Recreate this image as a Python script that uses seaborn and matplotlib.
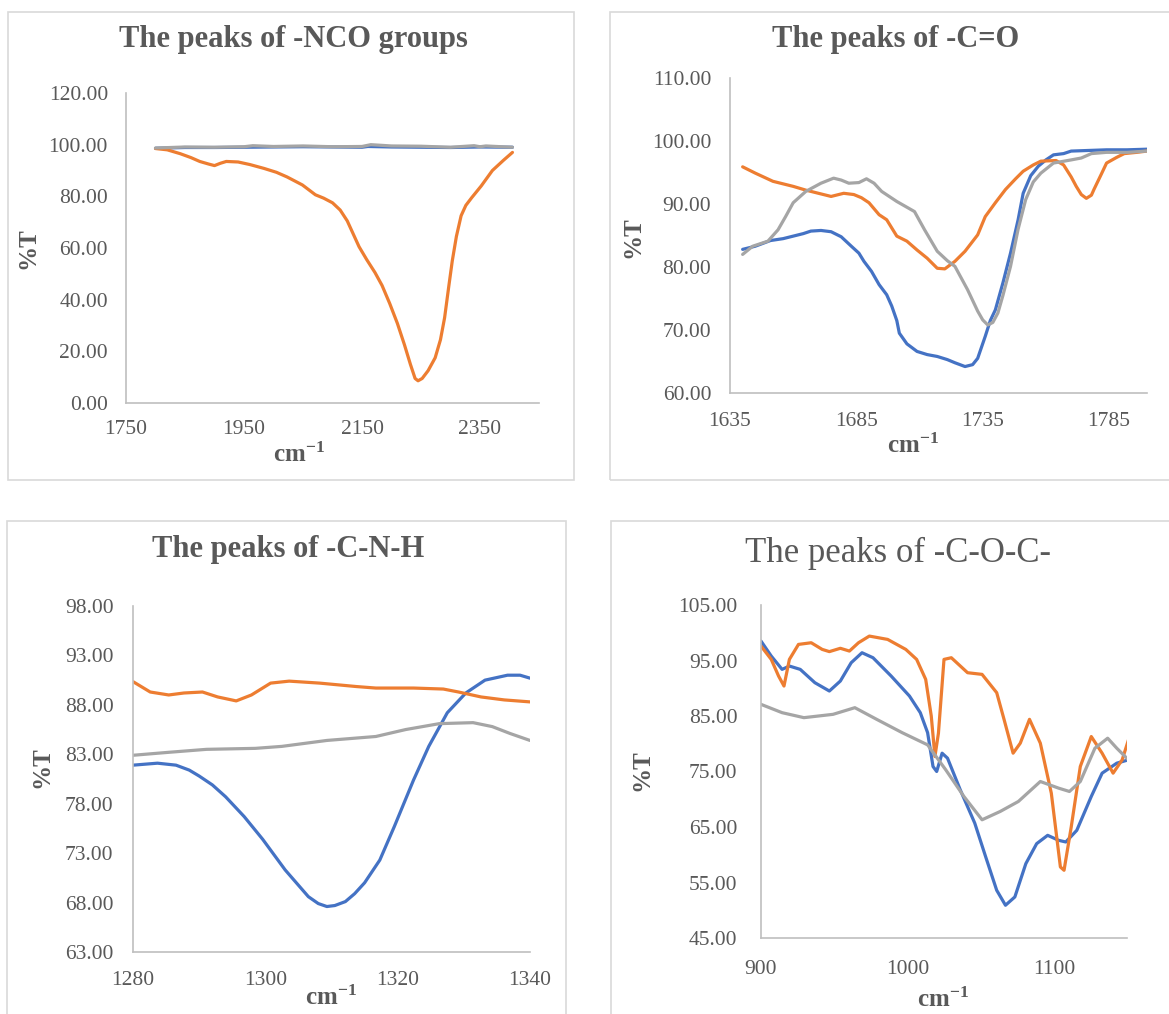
import numpy as np
import pandas as pd
import matplotlib
matplotlib.use("Agg")
import matplotlib.pyplot as plt
import seaborn as sns
from matplotlib.patches import Rectangle
from matplotlib.ticker import FormatStrFormatter

# ---------------- data ----------------
# Panel 1: -NCO groups
nco_blue_x = [1800, 1850, 1900, 1950, 2000, 2050, 2100, 2150, 2160, 2200, 2250, 2300, 2350, 2405]
nco_blue_y = [98.6, 98.9, 98.9, 99.0, 99.1, 99.2, 99.1, 99.0, 99.3, 99.1, 99.0, 98.9, 99.1, 99.0]
nco_orange_x = [1800, 1820, 1842, 1860, 1875, 1890, 1900, 1910, 1920, 1940, 1960, 1984, 2005, 2023,
                2049, 2071, 2085, 2100, 2113, 2125, 2135, 2145, 2158, 2172, 2184, 2197, 2210, 2222,
                2232, 2240, 2245, 2252, 2262, 2274, 2283, 2290, 2297, 2303, 2310, 2318, 2326, 2336,
                2352, 2371, 2390, 2405]
nco_orange_y = [98.5, 98.0, 96.5, 95.0, 93.5, 92.5, 91.9, 92.8, 93.5, 93.3, 92.3, 90.8, 89.3, 87.5,
                84.4, 80.6, 79.3, 77.5, 74.7, 70.5, 65.5, 60.5, 55.5, 50.5, 45.5, 38.5, 30.8, 22.5,
                15.0, 9.5, 8.6, 9.5, 12.5, 17.5, 24.5, 33.0, 45.0, 55.0, 64.5, 72.5, 76.5, 79.5,
                84.0, 90.0, 94.0, 97.0]
nco_gray_x = [1800, 1850, 1900, 1950, 1965, 2000, 2050, 2100, 2150, 2165, 2200, 2250, 2300, 2340,
              2350, 2360, 2405]
nco_gray_y = [98.7, 99.1, 99.0, 99.2, 99.6, 99.3, 99.5, 99.2, 99.3, 100.0, 99.5, 99.4, 99.0, 99.6,
              99.2, 99.5, 99.0]

# Panel 2: -C=O
co_blue_x = [1640, 1645, 1651, 1656, 1660, 1664, 1667, 1671, 1675, 1679, 1683, 1686, 1688, 1691,
             1694, 1697, 1699, 1701, 1702, 1705, 1709, 1713, 1717, 1721, 1724, 1728, 1731, 1733,
             1736, 1738, 1740, 1743, 1746, 1749, 1751, 1754, 1757, 1760, 1763, 1767, 1770, 1777,
             1784, 1792, 1800]
co_blue_y = [82.8, 83.3, 84.2, 84.5, 84.9, 85.3, 85.7, 85.8, 85.6, 84.8, 83.3, 82.2, 80.9, 79.3,
             77.2, 75.6, 73.8, 71.5, 69.5, 67.8, 66.6, 66.1, 65.8, 65.3, 64.8, 64.2, 64.5, 65.5,
             69.0, 71.5, 73.2, 77.5, 82.2, 87.5, 91.7, 94.5, 96.0, 97.0, 97.8, 98.0, 98.4, 98.5,
             98.6, 98.6, 98.7]
co_orange_x = [1640, 1645, 1652, 1660, 1665, 1670, 1675, 1680, 1684, 1687, 1690, 1694, 1697, 1701,
               1705, 1709, 1713, 1717, 1720, 1724, 1728, 1733, 1736, 1740, 1744, 1748, 1751, 1755,
               1758, 1764, 1767, 1770, 1772, 1774, 1776, 1778, 1779, 1782, 1784, 1788, 1791, 1796,
               1800]
co_orange_y = [95.9, 94.9, 93.6, 92.8, 92.2, 91.7, 91.2, 91.7, 91.5, 91.0, 90.2, 88.3, 87.5, 84.9,
               84.1, 82.7, 81.4, 79.8, 79.7, 80.9, 82.5, 85.1, 88.0, 90.2, 92.3, 94.0, 95.2, 96.2,
               96.8, 96.9, 96.2, 94.3, 92.8, 91.5, 90.9, 91.4, 92.3, 94.8, 96.5, 97.4, 98.0, 98.2,
               98.4]
co_gray_x = [1640, 1644, 1650, 1654, 1657, 1660, 1665, 1671, 1676, 1679, 1682, 1686, 1689, 1692,
             1695, 1701, 1708, 1712, 1717, 1721, 1724, 1729, 1733, 1735, 1737, 1739, 1741, 1743,
             1746, 1749, 1752, 1755, 1758, 1763, 1770, 1774, 1778, 1784, 1792, 1800]
co_gray_y = [82.0, 83.3, 84.1, 85.9, 88.0, 90.2, 92.0, 93.3, 94.1, 93.8, 93.3, 93.4, 94.0, 93.3,
             92.0, 90.4, 88.8, 85.9, 82.5, 81.0, 80.1, 76.4, 73.0, 71.6, 70.8, 71.2, 72.7, 75.5,
             80.1, 86.0, 90.7, 93.5, 94.9, 96.5, 97.0, 97.3, 98.0, 98.2, 98.2, 98.4]

# Panel 3: -C-N-H
cnh_blue_x = [1280, 1283.7, 1286.5, 1288.5, 1290, 1292, 1294, 1296.8, 1299.6, 1303, 1306.5, 1308,
              1309.3, 1310.5, 1312.1, 1313.5, 1315, 1317.3, 1319.5, 1322.4, 1324.7, 1327.5, 1330.3,
              1333.2, 1336.6, 1338.5, 1340]
cnh_blue_y = [81.9, 82.1, 81.9, 81.4, 80.8, 79.9, 78.7, 76.7, 74.4, 71.3, 68.6, 67.9, 67.6, 67.7,
              68.1, 68.9, 70.0, 72.3, 75.7, 80.4, 83.8, 87.2, 89.2, 90.5, 91.0, 91.0, 90.7]
cnh_orange_x = [1280, 1282.6, 1285.4, 1287.7, 1290.5, 1292.8, 1295.6, 1297.9, 1300.8, 1303.6,
                1308.2, 1313.8, 1316.7, 1322.4, 1326.9, 1329.2, 1332.6, 1336.1, 1340]
cnh_orange_y = [90.35, 89.3, 89.0, 89.2, 89.3, 88.8, 88.4, 89.0, 90.2, 90.4, 90.2, 89.85, 89.7,
                89.7, 89.6, 89.3, 88.8, 88.5, 88.3]
cnh_gray_x = [1280, 1285.4, 1291.1, 1298.5, 1302.5, 1309.3, 1316.7, 1321.2, 1326.3, 1331.4, 1334.3,
              1337, 1340]
cnh_gray_y = [82.9, 83.2, 83.5, 83.6, 83.8, 84.4, 84.8, 85.5, 86.1, 86.2, 85.8, 85.1, 84.4]

# Panel 4: -C-O-C-
coc_blue_x = [900, 907, 914.4, 919.4, 926.8, 936.8, 946.7, 954.2, 961.6, 969, 976.5, 988.9, 1001.4,
              1008.8, 1013.8, 1017.5, 1020, 1023.7, 1027.4, 1036.1, 1046, 1053.5, 1061, 1067,
              1073.4, 1080.9, 1088.3, 1095.8, 1103.3, 1108.2, 1115.7, 1125.6, 1133, 1143, 1151]
coc_blue_y = [98.5, 95.8, 93.4, 94.0, 93.4, 91.0, 89.5, 91.3, 94.6, 96.4, 95.5, 92.2, 88.6, 85.6,
              82.0, 75.9, 75.0, 78.3, 77.4, 71.7, 65.7, 59.6, 53.6, 50.9, 52.4, 58.4, 62.0, 63.5,
              62.6, 62.3, 64.4, 70.5, 74.7, 76.5, 77.1]
coc_orange_x = [900, 907, 912, 915.7, 919.4, 925.6, 934.3, 941.8, 946.7, 954.2, 960.4, 966.6, 974,
                986.5, 998.9, 1006.3, 1012.5, 1016.3, 1018.8, 1021.2, 1025, 1030, 1041.1, 1051,
                1061, 1066, 1072.2, 1077.1, 1083.4, 1090.8, 1098.3, 1104.5, 1107, 1111.9, 1118.1,
                1125.6, 1133, 1140.5, 1146.7, 1151]
coc_orange_y = [97.6, 95.2, 92.2, 90.4, 95.2, 97.9, 98.2, 97.0, 96.6, 97.2, 96.7, 98.2, 99.4,
                98.8, 97.0, 95.2, 91.6, 85.0, 77.7, 81.9, 95.2, 95.5, 92.8, 92.5, 89.2, 84.4,
                78.3, 80.1, 84.4, 80.1, 71.1, 57.8, 57.2, 65.0, 75.9, 81.3, 78.3, 74.7, 77.1, 80.7]
coc_gray_x = [900, 914.4, 929.3, 949.2, 964.1, 979, 996.4, 1013.8, 1026.2, 1038.6, 1051, 1063.4,
              1075.8, 1090.8, 1103.3, 1110.7, 1118.1, 1128.1, 1136.8, 1143, 1151]
coc_gray_y = [87.1, 85.6, 84.7, 85.3, 86.5, 84.4, 82.0, 79.8, 75.3, 70.5, 66.3, 67.8, 69.6, 73.2,
              72.0, 71.4, 73.2, 79.2, 81.0, 79.2, 77.1]

titles = ["The peaks of -NCO groups", "The peaks of -C=O", "The peaks of -C-N-H",
          "The peaks of -C-O-C-"]
x_ticks = [[1750, 1950, 2150, 2350], [1635, 1685, 1735, 1785], [1280, 1300, 1320, 1340],
           [900, 1000, 1100]]
y_ticks = [[0, 20, 40, 60, 80, 100, 120], [60, 70, 80, 90, 100, 110],
           [63, 68, 73, 78, 83, 88, 93, 98], [45, 55, 65, 75, 85, 95, 105]]
x_label = r"$\mathbf{cm^{-1}}$"
y_label = "%T"

# ---------------- style ----------------
W, H = 1169, 1014
sns.set_theme(style="white")
plt.rcParams["font.family"] = ["Liberation Serif", "DejaVu Serif"]
plt.rcParams["mathtext.fontset"] = "custom"
plt.rcParams["mathtext.rm"] = "Liberation Serif"
plt.rcParams["mathtext.bf"] = "Liberation Serif:bold"
plt.rcParams["mathtext.it"] = "Liberation Serif:italic"

palette = {"S1": "#4472C4", "S2": "#ED7D31", "S3": "#A5A5A5"}
TXT = "#595959"

fig = plt.figure(figsize=(W / 100, H / 100), dpi=100)


def frame(x0, y0, x1, y1):
    fig.add_artist(Rectangle((x0 / W, 1 - y1 / H), (x1 - x0) / W, (y1 - y0) / H,
                             transform=fig.transFigure, fill=False, ec="#D9D9D9", lw=1.2))


def panel(i, box, rect, series, xlim, ylim, title_c, title_kw, xlab_c, ylab_c, ypad, xpad):
    frame(*box)
    l, t, r, b = rect
    ax = fig.add_axes([l / W, 1 - b / H, (r - l) / W, (b - t) / H])
    frames = []
    for name, (xs, ys) in zip(["S1", "S2", "S3"], series):
        frames.append(pd.DataFrame({"x": xs, "T": ys, "s": name}))
    df = pd.concat(frames, ignore_index=True)
    sns.lineplot(data=df, x="x", y="T", hue="s", palette=palette, sort=False, estimator=None,
                 legend=False, linewidth=2.3, ax=ax, solid_joinstyle="round",
                 solid_capstyle="round")
    ax.set_xlim(*xlim)
    ax.set_ylim(*ylim)
    ax.set_xticks(x_ticks[i])
    ax.set_yticks(y_ticks[i])
    ax.yaxis.set_major_formatter(FormatStrFormatter("%.2f"))
    ax.tick_params(axis="both", length=0, labelsize=15.5, labelcolor=TXT)
    ax.tick_params(axis="y", pad=ypad)
    ax.tick_params(axis="x", pad=xpad)
    for sp in ["top", "right"]:
        ax.spines[sp].set_visible(False)
    for sp in ["left", "bottom"]:
        ax.spines[sp].set_color("#BFBFBF")
        ax.spines[sp].set_linewidth(1.2)
    ax.set_facecolor("none")
    # title
    tx = (title_c[0] - l) / (r - l)
    ty = (b - title_c[1]) / (b - t)
    ax.set_title(titles[i], x=tx, y=ty, va="center", ha="center", color=TXT, **title_kw)
    # axis labels
    ax.set_xlabel(x_label, fontsize=18, color=TXT, fontweight="bold")
    ax.xaxis.set_label_coords((xlab_c[0] - l) / (r - l), (b - xlab_c[1]) / (b - t))
    ax.xaxis.label.set_va("center")
    ax.set_ylabel(y_label, fontsize=18, color=TXT, fontweight="bold")
    ax.yaxis.set_label_coords((ylab_c[0] - l) / (r - l), (b - ylab_c[1]) / (b - t))
    ax.yaxis.label.set_va("center")
    ax.yaxis.label.set_ha("center")
    return ax


bold_title = dict(fontsize=22, fontweight="bold")

panel(0, (8, 12, 574, 480), (126, 93, 539, 403),
      [(nco_blue_x, nco_blue_y), (nco_orange_x, nco_orange_y), (nco_gray_x, nco_gray_y)],
      (1750, 2450), (0, 120), (293, 48), bold_title, (299, 455), (28, 248), 13, 12.5)

panel(1, (610, 12, W + 10, 480), (730, 78, 1147, 393),
      [(co_blue_x, co_blue_y), (co_orange_x, co_orange_y), (co_gray_x, co_gray_y)],
      (1635, 1800), (60, 110), (896, 48), bold_title, (913, 446), (633, 237), 13.5, 14)

panel(2, (7, 521, 566, H + 10), (133, 606, 530, 952),
      [(cnh_blue_x, cnh_blue_y), (cnh_orange_x, cnh_orange_y), (cnh_gray_x, cnh_gray_y)],
      (1280, 1340), (63, 98), (288, 558), bold_title, (331, 998), (42, 767), 14, 14)

panel(3, (611, 521, W + 10, H + 10), (761, 605, 1127, 938),
      [(coc_blue_x, coc_blue_y), (coc_orange_x, coc_orange_y), (coc_gray_x, coc_gray_y)],
      (900, 1150), (45, 105), (898, 562), dict(fontsize=25, fontweight="normal"),
      (943, 1000), (642, 770), 17, 16)

fig.savefig("out.png", dpi=100, facecolor="white")
